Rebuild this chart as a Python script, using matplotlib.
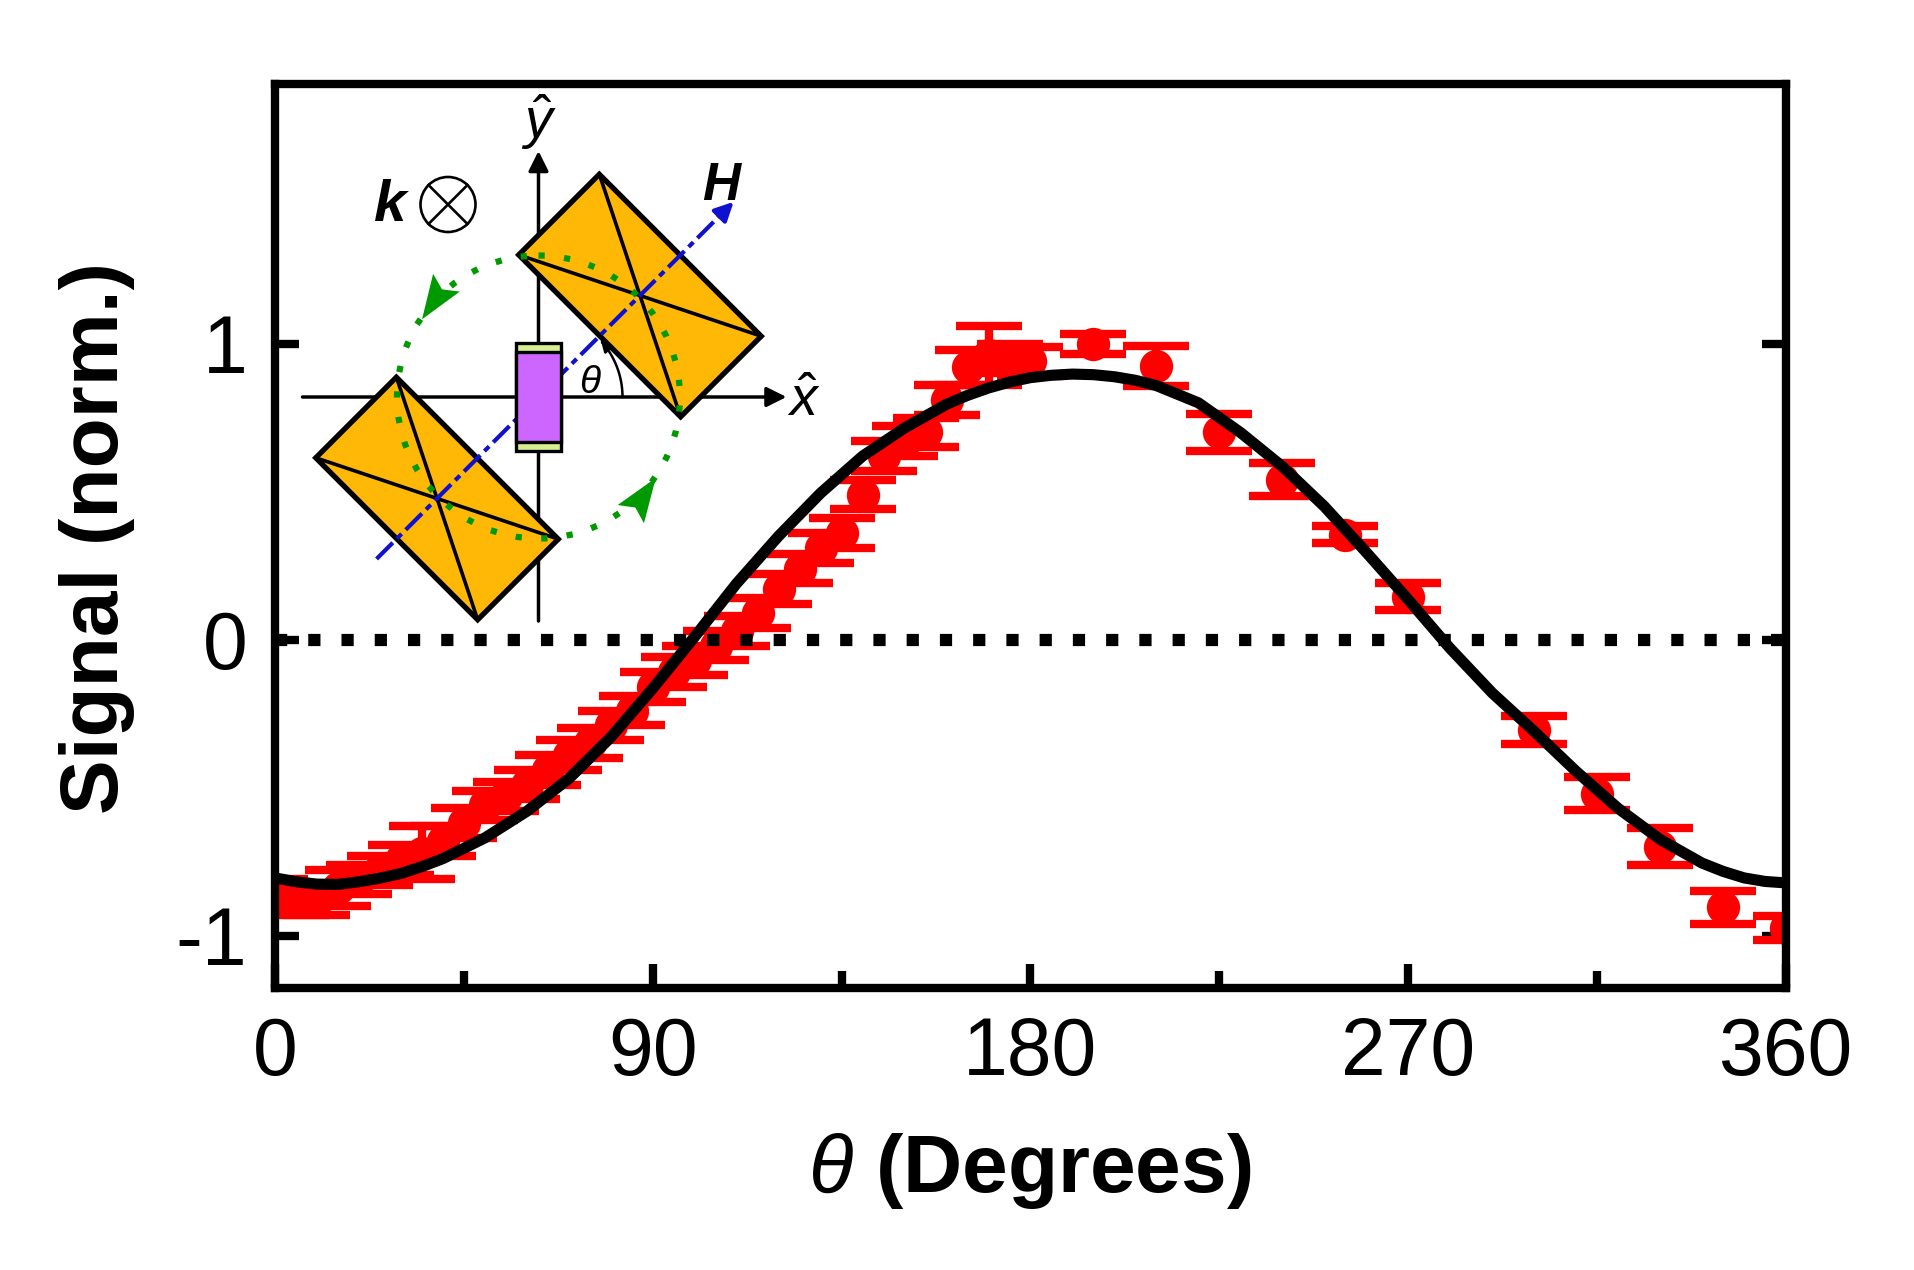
import numpy as np
import matplotlib
matplotlib.use("Agg")
import matplotlib.pyplot as plt
from matplotlib.patches import Polygon, Rectangle, Circle, FancyArrowPatch
from matplotlib.path import Path
from matplotlib.ticker import MultipleLocator

plt.rcParams['font.family'] = ['Liberation Sans', 'DejaVu Sans']
plt.rcParams['mathtext.fontset'] = 'custom'
plt.rcParams['mathtext.rm'] = 'Liberation Sans'
plt.rcParams['mathtext.it'] = 'Liberation Sans:italic'
plt.rcParams['mathtext.bf'] = 'Liberation Sans:bold'
plt.rcParams['axes.unicode_minus'] = False

# measured points (angle in degrees, normalised signal, error)
theta_deg = [0, 5, 10, 15, 20, 25, 30, 35, 40, 45, 50, 55, 60, 65, 70, 75, 80, 85,
             90, 95, 100, 105, 110, 115, 120, 125, 130, 135, 140, 145, 150, 155,
             160, 165, 170, 175, 180, 195, 210, 225, 240, 255, 270, 300, 315,
             330, 345, 360]
signal = [-0.86, -0.88, -0.88, -0.84, -0.81, -0.78, -0.745, -0.72, -0.68, -0.62,
          -0.56, -0.53, -0.49, -0.44, -0.39, -0.35, -0.29, -0.24, -0.16, -0.11,
          -0.07, -0.02, 0.03, 0.09, 0.17, 0.24, 0.31, 0.36, 0.49, 0.62, 0.67,
          0.70, 0.81, 0.92, 0.96, 0.95, 0.94, 1.00, 0.925, 0.70, 0.54, 0.355,
          0.145, -0.305, -0.52, -0.70, -0.905, -0.975]
signal_err = [0.05, 0.05, 0.05, 0.06, 0.05, 0.05, 0.05, 0.09, 0.05, 0.05,
              0.05, 0.05, 0.05, 0.05, 0.05, 0.05, 0.05, 0.05, 0.05, 0.05,
              0.05, 0.05, 0.05, 0.05, 0.05, 0.05, 0.05, 0.05, 0.05, 0.05, 0.05,
              0.05, 0.05, 0.06, 0.10, 0.05, 0.05, 0.034, 0.068, 0.063, 0.056, 0.029,
              0.045, 0.047, 0.055, 0.063, 0.055, 0.04]

# fitted curve
fit_theta = [0, 5, 10, 15, 20, 25, 30, 35, 40, 50, 60, 70, 80, 90, 100, 110, 120,
             130, 140, 150, 160, 165, 170, 175, 180, 185, 190, 195, 200, 205, 210,
             220, 230, 240, 250, 260, 270, 280, 290, 300, 310, 320, 330, 340, 345,
             350, 355, 360]
fit_signal = [-0.805, -0.818, -0.826, -0.827, -0.818, -0.806, -0.79, -0.767, -0.74,
              -0.67, -0.58, -0.47, -0.33, -0.165, 0.01, 0.19, 0.35, 0.495, 0.62,
              0.715, 0.795, 0.825, 0.85, 0.87, 0.885, 0.893, 0.897, 0.895, 0.888,
              0.876, 0.858, 0.80, 0.70, 0.585, 0.45, 0.295, 0.135, -0.03, -0.18,
              -0.31, -0.445, -0.57, -0.675, -0.755, -0.783, -0.805, -0.817, -0.822]

x_ticks = [0, 90, 180, 270, 360]
y_ticks = [-1, 0, 1]

W, H = 1915, 1270
fig = plt.figure(figsize=(W / 100, H / 100), dpi=100)
ax = fig.add_axes([275 / W, 1 - 988 / H, (1786 - 275) / W, (988 - 84) / H])

pts, caps, bars = ax.errorbar(theta_deg, signal, yerr=signal_err, fmt='o',
                              color='red', ms=24, capsize=24, capthick=6,
                              elinewidth=6, zorder=2)
pts.set_markeredgewidth(0)
ax.axhline(0, color='black', lw=8.8, linestyle=(0, (1, 1.72)),
           dash_capstyle='butt', zorder=2.3)
ax.plot(fit_theta, fit_signal, color='black', lw=8, zorder=2.4,
        solid_joinstyle='round')

ax.set_xlim(0, 360)
ax.set_ylim(-1.177, 1.877)
ax.set_xticks(x_ticks)
ax.set_yticks(y_ticks)
ax.xaxis.set_minor_locator(MultipleLocator(45))
ax.tick_params(which='both', direction='in', width=6, labelsize=58, pad=20,
               top=False, right=True)
ax.tick_params(which='major', length=17)
ax.tick_params(which='minor', length=12)
ax.tick_params(axis='y', which='minor', left=False, right=False)
for s in ax.spines.values():
    s.set_linewidth(6)

fig.text(97 / W, 1 - 538 / H, 'Signal (norm.)', rotation=90, ha='center',
         va='center', fontsize=59, fontweight='bold')
fig.text(1030 / W, 1 - 1192 / H, r'$\theta$ (Degrees)', ha='center',
         va='baseline', fontsize=59, fontweight='bold')

# ---- sketch of the sample geometry (figure pixel coordinates) ----
ov = fig.add_axes([0, 0, 1, 1], zorder=5)
ov.set_xlim(0, W)
ov.set_ylim(H, 0)
ov.axis('off')

c = np.array([538.5, 397.0])
u = np.array([1.0, -1.0]) / np.sqrt(2)   # along H
v = np.array([1.0, 1.0]) / np.sqrt(2)
d, half_short, half_long = 143.5, 57.0, 114.5
ring_r = 141.5

# x / y axes
ov.annotate('', xy=(c[0] + 248, c[1]), xytext=(c[0] - 236, c[1]),
            arrowprops=dict(arrowstyle='-|>', lw=2.5, color='black',
                            mutation_scale=30, shrinkA=0, shrinkB=0), zorder=1)
ov.annotate('', xy=(c[0], c[1] - 246), xytext=(c[0], c[1] + 224),
            arrowprops=dict(arrowstyle='-|>', lw=2.5, color='black',
                            mutation_scale=30, shrinkA=0, shrinkB=0), zorder=1)

# the two crystals
for sgn in (1, -1):
    m = c + sgn * d * u
    corners = [m + a * half_short * u + b * half_long * v
               for a, b in [(-1, -1), (1, -1), (1, 1), (-1, 1)]]
    ov.add_patch(Polygon(corners, closed=True, facecolor='#FFB806',
                         edgecolor='black', lw=3.8, joinstyle='miter', zorder=2))
    for i, j in [(0, 2), (1, 3)]:
        ov.plot([corners[i][0], corners[j][0]], [corners[i][1], corners[j][1]],
                color='black', lw=2.6, zorder=2.1)

# H direction (dash-dot)
p0 = c - 229 * u
p1 = c + 260 * u
ov.plot([p0[0], p1[0]], [p0[1], p1[1]], color='#1010D0', lw=3,
        dashes=(5.5, 1.4, 1.6, 1.4), zorder=3)
ov.annotate('', xy=c + 276 * u, xytext=p1,
            arrowprops=dict(arrowstyle='-|>', lw=3, color='#1010D0',
                            mutation_scale=28, shrinkA=0, shrinkB=0), zorder=3)

# sample bar
pw, ph, cap = 45, 108, 9
ov.add_patch(Rectangle((c[0] - pw / 2, c[1] - ph / 2), pw, ph,
                       facecolor='#D6EE8E', edgecolor='black', lw=2.4, zorder=4))
ov.add_patch(Rectangle((c[0] - pw / 2, c[1] - ph / 2 + cap), pw, ph - 2 * cap,
                       facecolor='#CC66FF', edgecolor='black', lw=2.4, zorder=4.1))

# rotation ring
ov.add_patch(Circle(c, ring_r, fill=False, edgecolor='#009900', lw=4.5,
                    linestyle=(0, (1, 3.1)), zorder=5))
for phi, r in [(146.3, 140.0), (-34.6, 142.5)]:
    a = np.radians(phi)
    tip = c + r * np.array([np.cos(a), -np.sin(a)])
    t = np.array([-np.sin(a), -np.cos(a)])
    n = np.array([-t[1], t[0]])
    back = tip - 44 * t
    notch = tip - 36 * t
    ov.add_patch(Polygon([tip, back + 16 * n, notch, back - 16 * n], closed=True,
                         facecolor='#009900', edgecolor='none', zorder=6))

# angle theta
ang = np.radians(np.linspace(0, 42, 40))
arc = np.column_stack([c[0] + 84 * np.cos(ang), c[1] - 84 * np.sin(ang)])
ov.add_patch(FancyArrowPatch(path=Path(arc), arrowstyle='-|>', lw=1.8,
                             color='black', mutation_scale=16, zorder=6))
ov.text(590, 393, r'$\theta$', fontsize=28, ha='center', va='baseline', zorder=7)

# labels
ov.text(804, 416, r'$\hat{x}$', fontsize=40, ha='center', va='baseline', zorder=7)
ov.text(539, 138, r'$\hat{y}$', fontsize=40, ha='center', va='baseline', zorder=7)
ov.text(721, 200, 'H', fontsize=38, fontweight='bold', fontstyle='italic',
        ha='center', va='baseline', zorder=7)
ov.text(390, 221, 'k', fontsize=42, fontweight='bold', fontstyle='italic',
        ha='center', va='baseline', zorder=7)
kc = np.array([448.0, 204.5])
kr = 27.5
ov.add_patch(Circle(kc, kr, fill=False, edgecolor='black', lw=1.9, zorder=7))
for s in (1, -1):
    e = kr * np.array([np.cos(np.pi / 4), s * np.sin(np.pi / 4)])
    ov.plot([kc[0] - e[0], kc[0] + e[0]], [kc[1] - e[1], kc[1] + e[1]],
            color='black', lw=1.9, zorder=7)

fig.savefig('out.png', dpi=100, facecolor='white')
